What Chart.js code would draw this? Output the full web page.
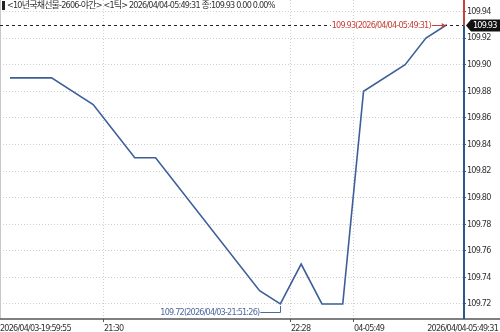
<!DOCTYPE html>
<html>
<head>
<meta charset="utf-8">
<script src="https://cdn.jsdelivr.net/npm/chart.js@4.4.1/dist/chart.umd.min.js"></script>
<style>
    html, body { margin: 0; padding: 0; background: #fff; }
    #wrap { width: 500px; height: 332px; }
</style>
</head>
<body>
<div id="wrap"><canvas id="chart" width="500" height="332"></canvas></div>
<script>
// Datos (índice de tick, precio)
const tickIndex = [0, 2, 4, 6, 7, 12, 13, 14, 15, 16, 17, 19, 20, 21];
const prices = [109.89, 109.89, 109.87, 109.83, 109.83, 109.73, 109.72, 109.75, 109.72, 109.72, 109.88, 109.90, 109.92, 109.93];

const yTickValues = [109.72, 109.74, 109.76, 109.78, 109.80, 109.82, 109.84, 109.86, 109.88, 109.90, 109.92, 109.94];
const xTickValues = [-0.48, 4.52, 13.51, 16.54];
const xTickLabels = ['2026/04/03-19:59:55', '21:30', '22:28', '04-05:49', '2026/04/04-05:49:31'];

const titleText = '<10년국채선물-2606-야간> <1틱> 2026/04/04-05:49:31 종:109.93 0.00 0.00%';
const lastPrice = 109.93;
const lastLabel = '109.93(2026/04/04-05:49:31)';
const lowPrice = 109.72;
const lowIndex = 13;
const lowLabel = '109.72(2026/04/03-21:51:26)';

const FONT = "'DejaVu Sans Condensed', 'Noto Sans CJK KR', sans-serif";
const SPACING = '-0.8px';
const LINE_BLUE = '#3d5f99';
const AXIS_BLUE = '#2e5590';
const RED = '#c8413b';

const X_MIN = -0.48, X_MAX = 21.83;
const Y_MIN = 109.7087, Y_MAX = 109.9486;
const PLOT_RIGHT = 464;

// ancho del último rótulo del eje x para alinearlo a la derecha
function measure(text, size) {
    const c = document.createElement('canvas').getContext('2d');
    c.font = size + 'px ' + FONT;
    c.letterSpacing = SPACING;
    return c.measureText(text).width;
}

// letra más estrecha, como en la fuente de la captura
const spacingPlugin = {
    id: 'spacing',
    beforeUpdate(chart) { chart.ctx.letterSpacing = SPACING; },
    beforeLayout(chart) { chart.ctx.letterSpacing = SPACING; },
    beforeDraw(chart) { chart.ctx.letterSpacing = SPACING; }
};

const overlayPlugin = {
    id: 'overlay',
    afterDraw(chart) {
        const { ctx, chartArea, scales } = chart;
        const xs = scales.x, ys = scales.y;
        const yLast = Math.round(ys.getPixelForValue(lastPrice)) + 0.5;
        const xLast = xs.getPixelForValue(tickIndex[tickIndex.length - 1]);

        ctx.save();
        // borde izquierdo
        ctx.strokeStyle = '#c8c8c8';
        ctx.lineWidth = 1;
        ctx.beginPath();
        ctx.moveTo(0.5, 0);
        ctx.lineTo(0.5, chartArea.bottom);
        ctx.stroke();

        // eje inferior
        ctx.strokeStyle = '#555';
        ctx.lineWidth = 1.5;
        ctx.beginPath();
        ctx.moveTo(0, chartArea.bottom);
        ctx.lineTo(500, chartArea.bottom);
        ctx.stroke();
        ctx.lineWidth = 1;

        // línea discontinua del último precio
        ctx.setLineDash([3, 3]);
        ctx.strokeStyle = '#222';
        ctx.beginPath();
        ctx.moveTo(chartArea.left, yLast);
        ctx.lineTo(chartArea.right, yLast);
        ctx.stroke();
        ctx.setLineDash([]);

        // rótulo rojo del último precio
        ctx.font = '9px ' + FONT;
        ctx.textBaseline = 'middle';
        ctx.textAlign = 'right';
        const txtEnd = xLast - 16;
        const w = ctx.measureText(lastLabel).width;
        ctx.fillStyle = '#fff';
        ctx.fillRect(txtEnd - w - 1, yLast - 5, w + 2, 10);
        ctx.fillStyle = RED;
        ctx.fillText(lastLabel, txtEnd, yLast);
        ctx.strokeStyle = RED;
        ctx.beginPath();
        ctx.moveTo(txtEnd + 1, yLast);
        ctx.lineTo(xLast - 1, yLast);
        ctx.stroke();
        ctx.beginPath();
        ctx.moveTo(xLast - 1, yLast);
        ctx.lineTo(xLast - 5, yLast - 2.5);
        ctx.lineTo(xLast - 5, yLast + 2.5);
        ctx.closePath();
        ctx.fillStyle = RED;
        ctx.fill();

        // rótulo azul del mínimo
        const xLow = xs.getPixelForValue(lowIndex);
        const yLow = ys.getPixelForValue(lowPrice);
        const yTxt = Math.round(yLow + 8) + 0.5;
        const lowEnd = xLow - 21;
        ctx.fillStyle = '#4d6a9c';
        ctx.fillText(lowLabel, lowEnd, yTxt);
        ctx.strokeStyle = '#4d6a9c';
        ctx.beginPath();
        ctx.moveTo(lowEnd + 1, yTxt);
        ctx.lineTo(Math.round(xLow) + 0.5, yTxt);
        ctx.lineTo(Math.round(xLow) + 0.5, yLow + 2);
        ctx.stroke();

        // eje derecho: rojo por encima del último precio, azul por debajo
        const ax = chartArea.right;
        ctx.lineWidth = 2;
        ctx.strokeStyle = RED;
        ctx.beginPath();
        ctx.moveTo(ax, 0);
        ctx.lineTo(ax, yLast);
        ctx.stroke();
        ctx.strokeStyle = AXIS_BLUE;
        ctx.beginPath();
        ctx.moveTo(ax, yLast);
        ctx.lineTo(ax, chartArea.bottom);
        ctx.stroke();

        // caja negra del precio actual
        ctx.fillStyle = '#111';
        ctx.beginPath();
        ctx.moveTo(ax + 2, yLast);
        ctx.lineTo(ax + 7, yLast - 6);
        ctx.lineTo(500, yLast - 6);
        ctx.lineTo(500, yLast + 6);
        ctx.lineTo(ax + 7, yLast + 6);
        ctx.closePath();
        ctx.fill();
        ctx.fillStyle = '#fff';
        ctx.textAlign = 'left';
        ctx.fillText(lastPrice.toFixed(2), ax + 9, yLast + 0.5);

        // título
        ctx.fillStyle = '#222';
        ctx.fillRect(2, 1, 3, 9);
        ctx.textAlign = 'left';
        ctx.fillStyle = '#333';
        ctx.fillText(titleText, 7, 6);
        ctx.restore();
    }
};

function noPadding(scale) {
    scale.paddingLeft = 0;
    scale.paddingRight = 0;
    scale.paddingTop = 0;
    scale.paddingBottom = 0;
}

const lastLabelWidth = measure(xTickLabels[xTickLabels.length - 1], 9);
const pxPerUnit = PLOT_RIGHT / (X_MAX - X_MIN);
const xTicksAll = xTickValues.concat([X_MIN + (498 - lastLabelWidth) / pxPerUnit]);
const isEdge = (ctx) => ctx.index === 0 || ctx.index === xTicksAll.length - 1;

const chart = new Chart(document.getElementById('chart'), {
    type: 'line',
    data: {
        datasets: [{
            data: tickIndex.map((t, i) => ({ x: t, y: prices[i] })),
            borderColor: LINE_BLUE,
            borderWidth: 1.6,
            pointRadius: 0,
            tension: 0,
            fill: false
        }]
    },
    options: {
        responsive: false,
        animation: false,
        layout: { padding: 0 },
        plugins: { legend: { display: false }, tooltip: { enabled: false } },
        scales: {
            x: {
                type: 'linear',
                min: X_MIN,
                max: X_MAX,
                afterBuildTicks: (scale) => { scale.ticks = xTicksAll.map(v => ({ value: v })); },
                afterFit: (scale) => { scale.height = 13; noPadding(scale); },
                ticks: {
                    autoSkip: false,
                    maxRotation: 0,
                    align: 'start',
                    padding: 1,
                    color: '#333',
                    font: { family: FONT, size: 9 },
                    callback: (v, i) => xTickLabels[i]
                },
                grid: {
                    color: (ctx) => isEdge(ctx) ? 'rgba(0,0,0,0)' : '#cfcfcf',
                    tickColor: (ctx) => isEdge(ctx) ? 'rgba(0,0,0,0)' : '#555',
                    tickLength: 3,
                    lineWidth: 1
                },
                border: { display: false, dash: [1, 2] }
            },
            y: {
                type: 'linear',
                position: 'right',
                min: Y_MIN,
                max: Y_MAX,
                afterBuildTicks: (scale) => { scale.ticks = yTickValues.map(v => ({ value: v })); },
                afterFit: (scale) => { scale.width = 500 - PLOT_RIGHT; noPadding(scale); },
                ticks: {
                    padding: 1,
                    color: '#333',
                    font: { family: FONT, size: 9 },
                    callback: (v) => v.toFixed(2)
                },
                grid: {
                    color: '#cfcfcf',
                    tickColor: '#555',
                    tickLength: 2,
                    lineWidth: 1
                },
                border: { display: false, dash: [1, 2] }
            }
        }
    },
    plugins: [spacingPlugin, overlayPlugin]
});
</script>
</body>
</html>
